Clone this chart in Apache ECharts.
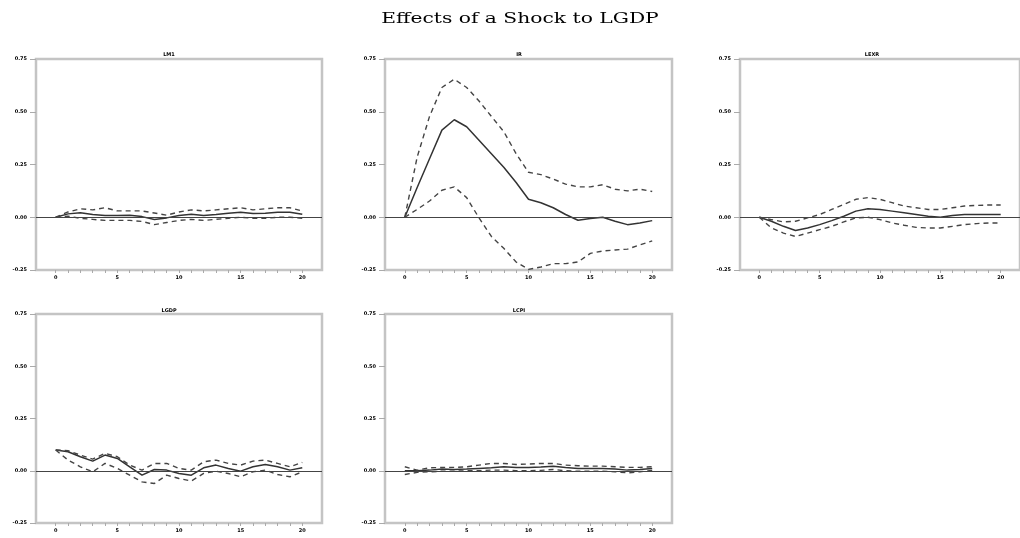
<!DOCTYPE html>
<html>
<head>
<meta charset="utf-8">
<script src="https://cdn.jsdelivr.net/npm/echarts@6/dist/echarts.min.js"></script>
<style>
html,body{margin:0;padding:0;background:#fff;}
#chart{width:1020px;height:538px;}
</style>
</head>
<body>
<div id="chart"></div>
<script>
// ---- data ----
const mainTitle = "Effects of a Shock to LGDP";
const panelNames = ["LM1", "IR", "LEXR", "LGDP", "LCPI"];
const steps = [0,1,2,3,4,5,6,7,8,9,10,11,12,13,14,15,16,17,18,19,20];
const xTickLabels = [0, 5, 10, 15, 20];
const yTicks = [-0.25, 0, 0.25, 0.5, 0.75];
const yTickLabels = ["-0.25", "0.00", "0.25", "0.50", "0.75"];

const lm1Mid   = [0, .016, .021, .013, .008, .008, .010, .003, -.011, -.003, .008, .014, .008, .013, .019, .024, .018, .019, .024, .024, .014];
const lm1Up    = [0, .025, .040, .035, .045, .030, .030, .030, .020, .010, .025, .035, .030, .035, .040, .045, .035, .040, .045, .045, .030];
const lm1Lo    = [0, .005, -.005, -.010, -.015, -.015, -.015, -.020, -.035, -.025, -.015, -.010, -.015, -.010, -.005, 0, -.005, -.005, 0, 0, -.005];

const irMid    = [0, .141, .277, .413, .462, .429, .365, .301, .237, .165, .085, .069, .045, .013, -.014, -.006, 0, -.019, -.035, -.027, -.016];
const irUp     = [0, .285, .478, .615, .654, .615, .551, .478, .406, .301, .213, .202, .181, .157, .144, .144, .154, .133, .125, .133, .122];
const irLo     = [0, .037, .077, .128, .144, .093, -.003, -.091, -.147, -.212, -.247, -.236, -.220, -.220, -.212, -.171, -.160, -.155, -.151, -.131, -.112];

const lexMid   = [0, -.019, -.043, -.063, -.051, -.035, -.016, .005, .029, .040, .037, .029, .021, .013, .005, 0, .008, .013, .013, .013, .013];
const lexUp    = [0, -.011, -.022, -.019, -.003, .013, .037, .061, .085, .093, .085, .069, .053, .045, .037, .037, .045, .053, .056, .058, .058];
const lexLo    = [0, -.051, -.075, -.091, -.075, -.059, -.043, -.022, -.003, 0, -.011, -.027, -.038, -.048, -.051, -.051, -.043, -.035, -.030, -.027, -.027];

const gdpMid   = [.099, .091, .067, .046, .075, .059, .019, -.021, .006, .003, -.013, -.021, .014, .027, .011, -.002, .019, .030, .019, .003, .014];
const gdpUp    = [.099, .096, .075, .056, .083, .067, .027, .003, .035, .035, .011, .003, .043, .051, .035, .027, .046, .051, .035, .019, .040];
const gdpLo    = [.099, .051, .019, -.005, .035, .011, -.021, -.053, -.061, -.021, -.037, -.049, -.013, -.002, -.013, -.029, -.005, .003, -.018, -.029, -.005];

const cpiMid   = [0, 0, .003, .008, .006, .008, .011, .014, .019, .016, .016, .018, .022, .016, .011, .011, .011, .008, .003, .006, .011];
const cpiUp    = [.019, .003, .014, .016, .016, .019, .027, .035, .035, .030, .032, .035, .035, .027, .024, .022, .022, .019, .016, .016, .019];
const cpiLo    = [-.018, -.008, -.005, -.002, -.002, 0, 0, .003, .003, 0, 0, .002, .006, 0, -.002, -.002, -.002, -.005, -.010, -.005, .002];

const panelData = [
  [lm1Mid, lm1Up, lm1Lo],
  [irMid, irUp, irLo],
  [lexMid, lexUp, lexLo],
  [gdpMid, gdpUp, gdpLo],
  [cpiMid, cpiUp, cpiLo]
];

// ---- layout ----
const gridBoxes = [
  {left: 36,  top: 59,  width: 286, height: 211},
  {left: 385, top: 59,  width: 287, height: 211},
  {left: 740, top: 59,  width: 287, height: 211},
  {left: 36,  top: 314, width: 286, height: 209},
  {left: 385, top: 314, width: 287, height: 209}
];
const titlePos = [[164, 47], [514, 47], [867, 47], [164, 303], [514, 303]];

const tinyFont = {fontSize: 5, fontWeight: 'bold', color: '#000', fontFamily: 'DejaVu Sans'};

const grids = [], xAxes = [], yAxes = [], series = [], titles = [];

gridBoxes.forEach((g, i) => {
  grids.push({left: g.left, top: g.top, width: g.width, height: g.height,
    show: true, borderColor: '#c4c4c4', borderWidth: 2.5, backgroundColor: 'transparent', containLabel: false});
  xAxes.push({type: 'value', gridIndex: i, min: -1.6, max: 21.6, position: 'bottom',
    axisLine: {show: false, onZero: false},
    splitLine: {show: false},
    axisTick: {show: true, customValues: steps, length: 3, inside: false, lineStyle: {color: '#aaa', width: 1}},
    axisLabel: {customValues: xTickLabels, margin: 5, ...tinyFont, formatter: v => String(v)}
  });
  yAxes.push({type: 'value', gridIndex: i, min: -0.25, max: 0.75, interval: 0.25, position: 'left',
    axisLine: {show: false, onZero: false},
    splitLine: {show: false},
    axisTick: {show: true, length: 6, lineStyle: {color: '#aaa', width: 1}},
    axisLabel: {margin: 9, ...tinyFont,
      formatter: v => yTickLabels[yTicks.findIndex(t => Math.abs(t - v) < 1e-9)] || ''}
  });
  const [mid, up, lo] = panelData[i];
  const toPts = arr => steps.map((s, k) => [s, arr[k]]);
  series.push({type: 'line', xAxisIndex: i, yAxisIndex: i, data: toPts(mid), symbol: 'none',
    lineStyle: {color: '#333', width: 1.5, type: 'solid'}, silent: true, z: 3,
    markLine: {silent: true, symbol: 'none', label: {show: false},
      lineStyle: {color: '#444', width: 1, type: 'solid'}, data: [{yAxis: 0}]}});
  series.push({type: 'line', xAxisIndex: i, yAxisIndex: i, data: toPts(up), symbol: 'none',
    lineStyle: {color: '#444', width: 1.4, type: [5, 4]}, silent: true, z: 3});
  series.push({type: 'line', xAxisIndex: i, yAxisIndex: i, data: toPts(lo), symbol: 'none',
    lineStyle: {color: '#444', width: 1.4, type: [5, 4]}, silent: true, z: 3});
  titles.push({text: panelNames[i], left: titlePos[i][0], top: titlePos[i][1], textAlign: 'center',
    textStyle: {...tinyFont}});
});

const chart = echarts.init(document.getElementById('chart'), null, {renderer: 'canvas'});
chart.setOption({
  animation: false,
  backgroundColor: '#fff',
  title: titles,
  graphic: [{
    type: 'text', x: 520, y: 19, scaleX: 1.35, scaleY: 1,
    style: {text: mainTitle, textAlign: 'center', textVerticalAlign: 'middle',
      font: '15px "DejaVu Serif"', fill: '#000'}
  }],
  grid: grids,
  xAxis: xAxes,
  yAxis: yAxes,
  series: series
});
</script>
</body>
</html>
